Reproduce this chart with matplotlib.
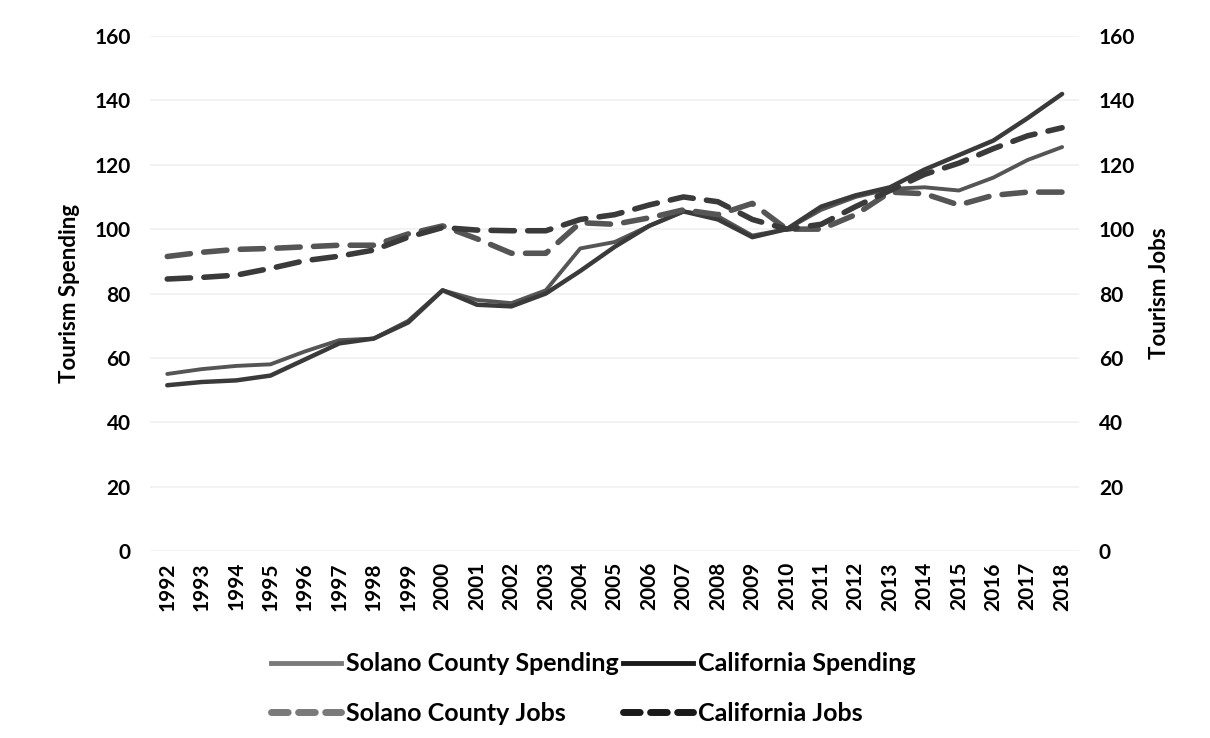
import matplotlib
matplotlib.use("Agg")
import matplotlib.pyplot as plt
from matplotlib.lines import Line2D

plt.rcParams['font.family'] = ['Lato', 'DejaVu Sans']
plt.rcParams['font.weight'] = 'bold'

# data (index, 2010 = 100)
years = list(range(1992, 2019))
solano_spending = [55, 56.5, 57.5, 58, 62, 65.5, 66, 71.5, 81, 78, 77, 81, 94, 96,
                   101, 105.5, 104, 98, 100, 106, 110, 112.5, 113, 112, 116, 121.5, 125.5]
california_spending = [51.5, 52.5, 53, 54.5, 59.5, 64.5, 66, 71, 81, 76.5, 76, 80, 87, 94.5,
                       101, 105.5, 103, 97.5, 100, 107, 110.5, 113, 118.5, 123, 127.5, 134.5, 142]
solano_jobs = [91.5, 92.8, 93.7, 94, 94.5, 95, 95, 98.5, 101, 97, 92.5, 92.5, 102, 101.5,
               103.5, 106, 104.5, 108, 100, 100, 104.5, 111.5, 111, 107.5, 110.5, 111.5, 111.5]
california_jobs = [84.5, 85, 85.7, 87.8, 90.2, 91.6, 93.5, 97.5, 100.5, 99.7, 99.5, 99.5, 103, 104.5,
                   107.5, 110, 108.5, 103, 100, 101.5, 107, 112, 117, 120.5, 125, 129, 131.5]
yticks = [0, 20, 40, 60, 80, 100, 120, 140, 160]

c_solano = '#555555'
c_ca = '#3a3a3a'
dash = (4.2, 2.4)

fig = plt.figure(figsize=(12.1, 7.38), dpi=100)
ax = fig.add_axes([0.124, 0.2534, 0.768, 0.6978])
ax2 = ax.twinx()

x = list(range(len(years)))
ax.plot(x, solano_spending, color=c_solano, lw=2.8, solid_capstyle='round', zorder=3)
ax.plot(x, california_spending, color=c_ca, lw=3.2, solid_capstyle='round', zorder=3)
ax2.plot(x, solano_jobs, color=c_solano, lw=4, dashes=dash, dash_capstyle='round')
ax2.plot(x, california_jobs, color=c_ca, lw=4, dashes=dash, dash_capstyle='round')

for a in (ax, ax2):
    a.set_ylim(0, 160)
    a.set_yticks(yticks)
    a.set_yticklabels([str(t) for t in yticks], fontsize=15, fontweight='bold')
    a.set_xlim(-0.5, len(years) - 0.5)
    for s in a.spines.values():
        s.set_visible(False)
    a.tick_params(length=0, pad=14)
ax.yaxis.grid(True, color='#f0f0f0', lw=1.2)
ax.set_axisbelow(True)
ax.set_xticks(x)
ax.set_xticklabels([str(y) for y in years], rotation=90, fontsize=15, fontweight='bold')
ax.tick_params(axis='x', pad=8)

ax.set_ylabel('Tourism Spending', fontsize=16, fontweight='bold', labelpad=10)
ax2.set_ylabel('Tourism Jobs', fontsize=16, fontweight='bold', labelpad=10)

# legend: column-wise order for ncol=2
handles = [Line2D([], [], color='#7a7a7a', lw=3.5),
           Line2D([], [], color='#7a7a7a', lw=5, dashes=(2.4, 1.5), dash_capstyle='round'),
           Line2D([], [], color='#1a1a1a', lw=3.5),
           Line2D([], [], color='#1a1a1a', lw=5, dashes=(2.4, 1.5), dash_capstyle='round')]
labels = ['Solano County Spending', 'Solano County Jobs',
          'California Spending', 'California Jobs']
fig.legend(handles, labels, ncol=2, loc='center left', bbox_to_anchor=(0.205, 0.067),
           frameon=False, prop={'size': 18, 'weight': 'bold'},
           handlelength=2.8, handletextpad=0.2, columnspacing=0.2, labelspacing=1.05)

fig.savefig('out.png', dpi=100)
